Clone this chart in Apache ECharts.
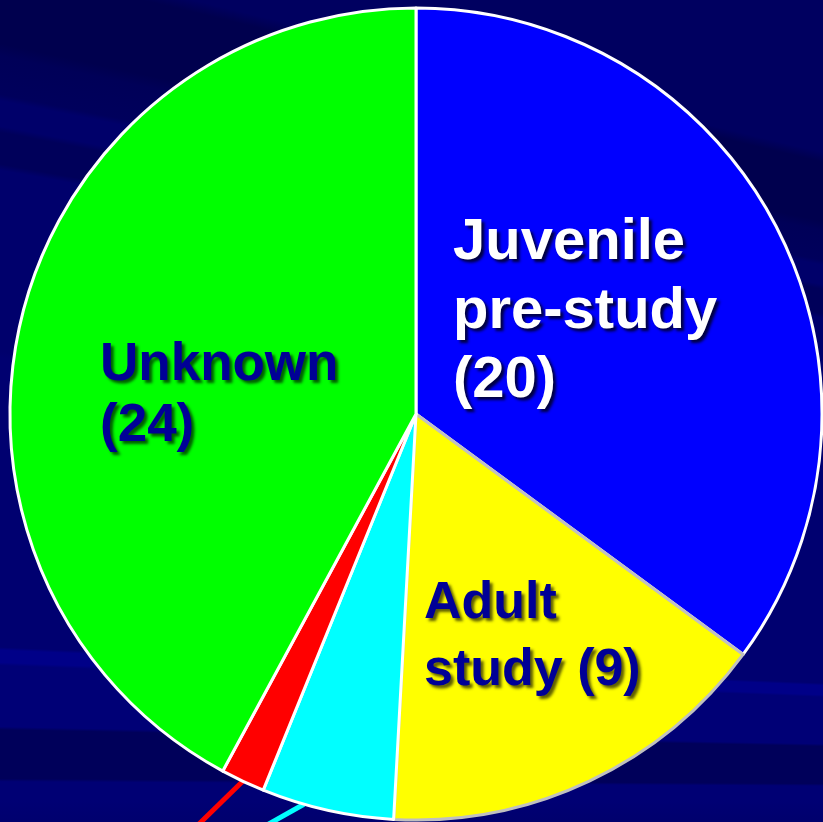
<!DOCTYPE html>
<html>
<head>
<meta charset="utf-8">
<script src="https://cdn.jsdelivr.net/npm/echarts@6/dist/echarts.min.js"></script>
<style>
  html, body { margin: 0; padding: 0; }
  #chart {
    width: 823px;
    height: 822px;
    /* navy backdrop with faint streaks fanning out from the right */
    background: conic-gradient(from 0deg at 3500px 800px,
      #00006e 0deg,
      #00006e 269.6deg,
      #000074 270.0deg,
      #000074 270.3deg,
      #00005a 270.35deg,
      #00005a 271.15deg,
      #000076 271.2deg,
      #000076 272.2deg,
      #000088 272.25deg,
      #000088 272.45deg,
      #000070 272.5deg,
      #000070 277.2deg,
      #00006c 277.3deg,
      #00006c 280.2deg,
      #00005a 280.3deg,
      #00005a 280.8deg,
      #00006a 280.9deg,
      #00006a 281.3deg,
      #00005c 281.4deg,
      #000058 282.0deg,
      #00004e 282.2deg,
      #00004e 283.4deg,
      #000060 283.6deg,
      #000060 360deg);
  }
</style>
</head>
<body>
<div id="chart"></div>
<script>
  // Slice categories, counts and fill colours
  const categories = ['Juvenile\npre-study', 'Adult\nstudy', 'Adult pre-study', 'Juvenile study', 'Unknown'];
  const counts = [20, 9, 3, 1, 24];
  const sliceColors = ['#0000ff', '#ffff00', '#00ffff', '#ff0000', '#00ff00'];

  const chart = echarts.init(document.getElementById('chart'), null, { renderer: 'canvas' });

  const pieCenter = [416, 414];
  const darkText = '#000096';
  // Where each in-slice label block sits (left edge, vertical middle)
  const labelSpots = {
    0: { x: 453, y: 312 },
    1: { x: 424, y: 637 },
    4: { x: 100, y: 396 }
  };
  // Leader lines of the two thin slices: direction, and a small turn
  // of the start point along the rim (degrees, clockwise)
  const leaderDir = {
    2: { d: [-0.87, 0.49], turn: 3.4 },
    3: { d: [-0.715, 0.70], turn: 0 }
  };

  const labelStyles = [
    { color: '#ffffff', fontSize: 58, lineHeight: 69, textShadowColor: 'rgba(0,0,30,0.85)' },
    { color: darkText, fontSize: 52, lineHeight: 67, textShadowColor: 'rgba(40,40,0,0.75)' },
    null,
    null,
    { color: darkText, fontSize: 53, lineHeight: 61, textShadowColor: 'rgba(0,40,0,0.75)' }
  ];

  const data = categories.map((name, i) => {
    const item = {
      name: name,
      value: counts[i],
      itemStyle: {
        color: sliceColors[i],
        borderColor: i === 1 ? '#c0c0c0' : '#ffffff'
      }
    };
    const ls = labelStyles[i];
    if (ls) {
      item.label = Object.assign({
        show: true,
        position: 'inside',
        fontFamily: '"Liberation Sans", Arial, sans-serif',
        fontWeight: 'bold',
        textShadowBlur: 3,
        textShadowOffsetX: 3,
        textShadowOffsetY: 3,
        align: 'left',
        formatter: p => p.name + (p.dataIndex === 1 ? ' ' : '\n') + '(' + p.value + ')'
      }, ls);
      item.labelLine = { show: false };
    } else {
      item.label = { show: true, position: 'outside', formatter: ' ', fontSize: 1 };
      item.labelLine = {
        show: true,
        length: 40,
        length2: 40,
        lineStyle: { color: sliceColors[i], width: 5 }
      };
    }
    return item;
  });

  function turnAroundCenter(p, deg) {
    const a = deg * Math.PI / 180;
    const dx = p[0] - pieCenter[0];
    const dy = p[1] - pieCenter[1];
    return [
      pieCenter[0] + dx * Math.cos(a) - dy * Math.sin(a),
      pieCenter[1] + dx * Math.sin(a) + dy * Math.cos(a)
    ];
  }

  chart.setOption({
    backgroundColor: 'transparent',
    animation: false,
    series: [{
      type: 'pie',
      center: pieCenter,
      radius: [0, 406],
      startAngle: 90,
      clockwise: true,
      avoidLabelOverlap: false,
      itemStyle: { borderWidth: 3, borderColor: '#ffffff' },
      emphasis: { disabled: true },
      data: data,
      labelLayout: function (params) {
        const i = params.dataIndex;
        if (labelSpots[i]) {
          return {
            x: labelSpots[i].x,
            y: labelSpots[i].y,
            align: 'left',
            verticalAlign: 'middle'
          };
        }
        if (leaderDir[i] && params.labelLinePoints) {
          const p0 = turnAroundCenter(params.labelLinePoints[0], leaderDir[i].turn);
          const d = leaderDir[i].d;
          const p1 = [p0[0] + d[0] * 200, p0[1] + d[1] * 200];
          return {
            x: p1[0],
            y: p1[1] + 100,
            labelLinePoints: [p0, p1, p1]
          };
        }
        return {};
      }
    }]
  });
</script>
</body>
</html>
